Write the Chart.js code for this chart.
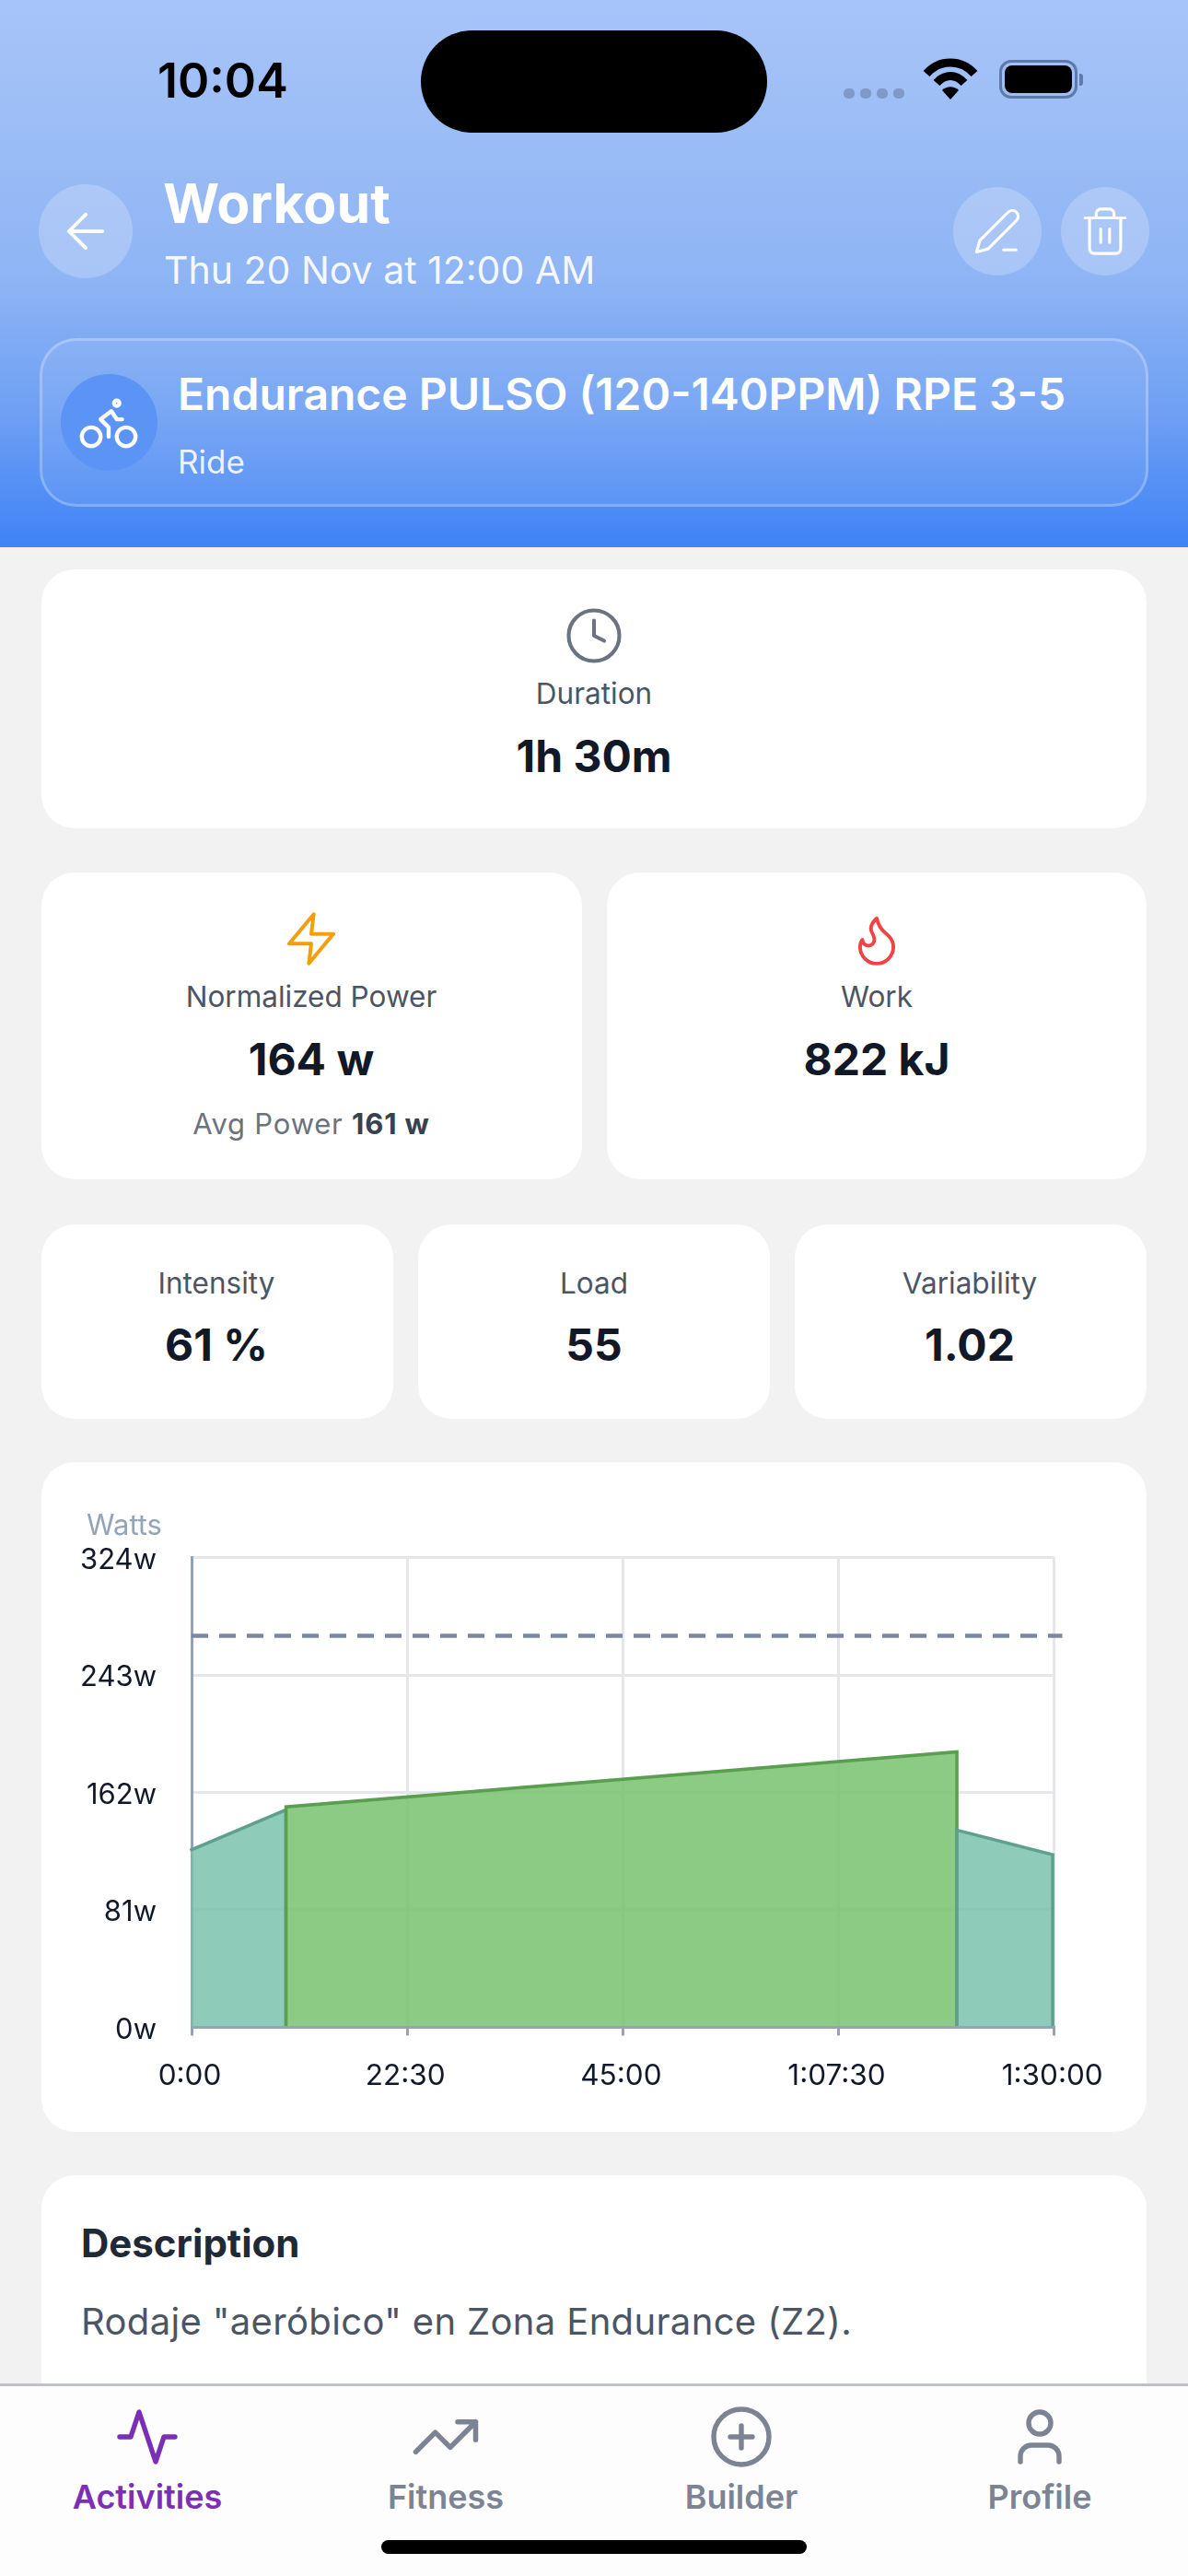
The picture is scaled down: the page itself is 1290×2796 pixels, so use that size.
<!DOCTYPE html>
<html>
<head>
<meta charset="utf-8">
<script src="https://cdn.jsdelivr.net/npm/chart.js@4"></script>
<style>
html, body { margin: 0; padding: 0; background: #f2f2f2; }
body { position: relative; width: 1290px; height: 2796px; overflow: hidden; font-family: Inter, "Noto Sans", sans-serif; color: #111827; }
.abs { position: absolute; }
.txt { position: absolute; white-space: nowrap; line-height: 1; transform: translateY(-50%); }
.mid { position: absolute; white-space: nowrap; line-height: 1; transform: translate(-50%, -50%); }
.card { position: absolute; background: #fff; border-radius: 36px; }
.label { font-size: 31.5px; color: #4b5563; }
.value { font-size: 48px; font-weight: 700; color: #111827; }
.round { position: absolute; border-radius: 50%; background: rgba(255,255,255,.22); }
.icon { position: absolute; fill: none; stroke-linecap: round; stroke-linejoin: round; }
.tab { font-size: 36px; font-weight: 600; color: #7c8493; }
#header { position: absolute; left: 0; top: 0; width: 1290px; height: 594px; background: linear-gradient(to bottom, #a7c4f8 0%, #8fb5f4 50%, #6fa0f4 75%, #3f83f6 100%); }
#chartBox { position: absolute; left: 45px; top: 1588px; width: 1199px; height: 726px; }
#tabbar { position: absolute; left: 0; top: 2587px; width: 1290px; height: 209px; background: #fdfdfd; border-top: 3px solid #bdc1ce; box-sizing: border-box; }
</style>
</head>
<body>

<div id="header"></div>

<!-- status bar -->
<div class="txt" style="left:171px;top:88px;font-size:52px;font-weight:600;color:#000">10:04</div>
<div class="abs" style="left:457px;top:33px;width:376px;height:111px;border-radius:56px;background:#000"></div>
<div class="abs" style="left:916px;top:96px;width:12px;height:11px;border-radius:5px;background:#7f9ac8"></div>
<div class="abs" style="left:934px;top:96px;width:12px;height:11px;border-radius:5px;background:#7f9ac8"></div>
<div class="abs" style="left:952px;top:96px;width:12px;height:11px;border-radius:5px;background:#7f9ac8"></div>
<div class="abs" style="left:970px;top:96px;width:12px;height:11px;border-radius:5px;background:#7f9ac8"></div>
<svg class="icon" style="left:1002px;top:62px" width="60" height="48" viewBox="0 0 60 48">
  <path d="M4 18 C18 2 42 2 56 18" stroke="#000" stroke-width="9" stroke-linecap="butt"/>
  <path d="M15 28 C24 18 36 18 45 28" stroke="#000" stroke-width="9" stroke-linecap="butt"/>
  <path d="M30 46 L21 36 C26 31 34 31 39 36 Z" fill="#000" stroke="none"/>
</svg>
<div class="abs" style="left:1085px;top:65px;width:85px;height:42px;box-sizing:border-box;border:3px solid #5f7aa9;border-radius:13px"></div>
<div class="abs" style="left:1091px;top:71px;width:73px;height:30px;border-radius:8px;background:#000"></div>
<div class="abs" style="left:1172px;top:80px;width:4px;height:13px;border-radius:0 3px 3px 0;background:#5f7aa9"></div>

<!-- header -->
<div class="round" style="left:42px;top:200px;width:102px;height:102px"></div>
<svg class="icon" style="left:62px;top:220px" width="62" height="62" viewBox="0 0 24 24" stroke="#fff" stroke-width="1.5">
  <path d="M19 12H5M12 19l-7-7 7-7"/>
</svg>
<div class="txt" style="left:177px;top:220px;font-size:59px;font-weight:700;color:#fff">Workout</div>
<div class="txt" style="left:178px;top:293px;font-size:41px;color:rgba(255,255,255,.92)">Thu 20 Nov at 12:00 AM</div>
<div class="round" style="left:1035px;top:203px;width:96px;height:96px"></div>
<svg class="icon" style="left:1056px;top:224px" width="54" height="54" viewBox="0 0 24 24" stroke="#fff" stroke-width="1.4">
  <path d="M17 3a2.85 2.83 0 1 1 4 4L7.5 20.5 2 22l1.5-5.5Z"/><path d="M15 21h6"/>
</svg>
<div class="round" style="left:1152px;top:203px;width:96px;height:96px"></div>
<svg class="icon" style="left:1171px;top:222px" width="58" height="58" viewBox="0 0 24 24" stroke="#fff" stroke-width="1.3">
  <path d="M3 6h18M19 6v14c0 1-1 2-2 2H7c-1 0-2-1-2-2V6M8 6V4c0-1 1-2 2-2h4c1 0 2 1 2 2v2M10 11v6M14 11v6"/>
</svg>

<div class="abs" style="left:43px;top:367px;width:1204px;height:183px;box-sizing:border-box;border-radius:40px;border:3px solid rgba(255,255,255,.25);background:rgba(255,255,255,.08)"></div>
<div class="abs" style="left:66px;top:406px;width:105px;height:105px;border-radius:50%;background:#5b94f5"></div>
<svg class="icon" style="left:83px;top:423px" width="70" height="70" viewBox="0 0 24 24" stroke="#fff" stroke-width="1.5">
  <circle cx="5.5" cy="17.5" r="3.5"/><circle cx="18.5" cy="17.5" r="3.5"/><circle cx="15" cy="5" r="1"/><path d="M12 17.5V14l-3-3 4-3 2 3h2"/>
</svg>
<div class="txt" style="left:193px;top:428px;font-size:48px;font-weight:600;color:#fff">Endurance PULSO (120-140PPM) RPE 3-5</div>
<div class="txt" style="left:193px;top:501px;font-size:35px;color:rgba(255,255,255,.88)">Ride</div>

<!-- stat cards -->
<div class="card" style="left:45px;top:618px;width:1200px;height:281px"></div>
<svg class="icon" style="left:612px;top:657px" width="66" height="66" viewBox="0 0 24 24" stroke="#6b7280" stroke-width="1.5">
  <circle cx="12" cy="12" r="10"/><path d="M12 6v6l4 2"/>
</svg>
<div class="mid label" style="left:645px;top:753px">Duration</div>
<div class="mid value" style="left:645px;top:821px">1h 30m</div>

<div class="card" style="left:45px;top:947px;width:587px;height:333px"></div>
<svg class="icon" style="left:306px;top:987px" width="64" height="64" viewBox="0 0 24 24" stroke="#f59e0b" stroke-width="1.5">
  <path d="M13 2 3 14h9l-1 8 10-12h-9l1-8Z"/>
</svg>
<div class="mid label" style="left:338px;top:1082px">Normalized Power</div>
<div class="mid value" style="left:338px;top:1150px">164 w</div>
<div class="mid" style="left:338px;top:1219px;font-size:31px;letter-spacing:.8px;color:#6b7280">Avg Power <b style="color:#374151">161 w</b></div>

<div class="card" style="left:659px;top:947px;width:586px;height:333px"></div>
<svg class="icon" style="left:921px;top:989px" width="62" height="62" viewBox="0 0 24 24" stroke="#ef4444" stroke-width="1.5">
  <path d="M8.5 14.5A2.5 2.5 0 0 0 11 12c0-1.38-.5-2-1-3-1.072-2.143-.224-4.054 2-6 .5 2.5 2 4.9 4 6.5 2 1.6 3 3.5 3 5.5a7 7 0 1 1-14 0c0-1.153.433-2.294 1-3a2.5 2.5 0 0 0 2.5 2.5z"/>
</svg>
<div class="mid label" style="left:952px;top:1082px">Work</div>
<div class="mid value" style="left:952px;top:1150px">822 kJ</div>

<div class="card" style="left:45px;top:1329px;width:382px;height:211px"></div>
<div class="mid label" style="left:235px;top:1393px">Intensity</div>
<div class="mid value" style="left:235px;top:1460px">61 %</div>
<div class="card" style="left:454px;top:1329px;width:382px;height:211px"></div>
<div class="mid label" style="left:645px;top:1393px">Load</div>
<div class="mid value" style="left:645px;top:1460px">55</div>
<div class="card" style="left:863px;top:1329px;width:382px;height:211px"></div>
<div class="mid label" style="left:1053px;top:1393px">Variability</div>
<div class="mid value" style="left:1053px;top:1460px">1.02</div>

<!-- chart -->
<div class="card" style="left:45px;top:1587px;width:1200px;height:727px"></div>
<div id="chartBox"><canvas id="powerChart" width="1199" height="726"></canvas></div>
<div class="txt" style="left:94px;top:1654px;font-size:31px;color:#94a3b8">Watts</div>

<!-- description -->
<div class="card" style="left:45px;top:2361px;width:1200px;height:300px"></div>
<div class="txt" style="left:88px;top:2435px;font-size:42px;font-weight:700;color:#1f2937">Description</div>
<div class="txt" style="left:88px;top:2520px;font-size:40px;letter-spacing:.35px;color:#4b5563">Rodaje "aeróbico" en Zona Endurance (Z2).</div>

<!-- tab bar -->
<div id="tabbar"></div>
<svg class="icon" style="left:124px;top:2609px" width="72" height="72" viewBox="0 0 24 24" stroke="#7b2fb5" stroke-width="1.8">
  <path d="M22 12h-4l-3 9L9 3l-3 9H2"/>
</svg>
<svg class="icon" style="left:445px;top:2606px" width="78" height="78" viewBox="0 0 24 24" stroke="#7c8493" stroke-width="1.7">
  <path d="M22 7l-8.5 8.5-5-5L2 17M16 7h6v6"/>
</svg>
<svg class="icon" style="left:769px;top:2609px" width="72" height="72" viewBox="0 0 24 24" stroke="#7c8493" stroke-width="1.8">
  <circle cx="12" cy="12" r="10"/><path d="M12 8v8M8 12h8"/>
</svg>
<svg class="icon" style="left:1093px;top:2609px" width="72" height="72" viewBox="0 0 24 24" stroke="#7c8493" stroke-width="1.8">
  <path d="M19 21v-2a4 4 0 0 0-4-4H9a4 4 0 0 0-4 4v2"/><circle cx="12" cy="7" r="4"/>
</svg>
<div class="mid tab" style="left:160px;top:2710px;color:#7b2fb5">Activities</div>
<div class="mid tab" style="left:484px;top:2710px">Fitness</div>
<div class="mid tab" style="left:805px;top:2710px">Builder</div>
<div class="mid tab" style="left:1129px;top:2710px">Profile</div>
<div class="abs" style="left:414px;top:2757px;width:462px;height:15px;border-radius:8px;background:#000"></div>

<script>
// minutes / watts
const warmupMinutes = [-0.15, -0.15, 9.85, 9.85];
const warmupWatts = [0, 122, 150, 0];
const mainMinutes = [9.85, 9.85, 79.85, 79.85];
const mainWatts = [0, 152, 190, 0];
const cooldownMinutes = [79.85, 79.85, 89.85, 89.85];
const cooldownWatts = [0, 136, 119, 0];
const ftpMinutes = [0, 90.85];
const ftpWatts = [270, 270];
const xTickLabels = ["0:00", "22:30", "45:00", "1:07:30", "1:30:00"];
const yTickLabels = ["0w", "81w", "162w", "243w", "324w"];

function zip(xs, ys) {
    return xs.map((x, i) => ({ x: x, y: ys[i] }));
}

function block(xs, ys, fill, line) {
    return {
        data: zip(xs, ys),
        fill: "origin",
        backgroundColor: fill,
        borderColor: line,
        borderWidth: 3.5,
        pointRadius: 0,
        tension: 0,
        clip: false,
    };
}

// the tick labels sit a little off their grid lines in the reference
const nudgeLabels = {
    id: "nudgeLabels",
    beforeDraw(chart) {
        chart.scales.y.getLabelItems().forEach((item) => {
            if (!item.nudged) {
                item.textOffset += 3;
                item.nudged = true;
            }
        });
        chart.scales.x.getLabelItems().forEach((item) => {
            if (!item.nudged) {
                item.options.translation[0] -= 2;
                item.nudged = true;
            }
        });
    },
};

const ctx = document.getElementById("powerChart").getContext("2d");

new Chart(ctx, {
    type: "line",
    plugins: [nudgeLabels],
    data: {
        // index 0 is painted last
        datasets: [
            block(cooldownMinutes, cooldownWatts, "rgba(122, 194, 172, 0.85)", "#5f9f8d"),
            block(mainMinutes, mainWatts, "rgba(120, 194, 110, 0.85)", "#5a9e50"),
            block(warmupMinutes, warmupWatts, "rgba(122, 194, 172, 0.85)", "#5f9f8d"),
            {
                data: zip(ftpMinutes, ftpWatts),
                borderColor: "#7a88a3",
                borderWidth: 4.5,
                borderDash: [18, 12],
                pointRadius: 0,
                fill: false,
                clip: false,
            },
        ],
    },
    options: {
        responsive: false,
        animation: false,
        layout: { padding: { top: 102.6, right: 99.3, left: 0, bottom: 0 } },
        plugins: { legend: { display: false }, tooltip: { enabled: false } },
        scales: {
            x: {
                type: "linear",
                min: 0,
                max: 90,
                afterFit: (scale) => { scale.height = 113.6; },
                border: { color: "#94a3b8", width: 3, z: 1 },
                grid: { color: "#e5e7eb", lineWidth: 3, tickColor: "#94a3b8", tickLength: 9 },
                ticks: {
                    stepSize: 22.5,
                    padding: 25,
                    maxRotation: 0,
                    autoSkip: false,
                    color: "#111827",
                    font: { family: "Inter", size: 31.5 },
                    callback: (value, index) => xTickLabels[index],
                },
            },
            y: {
                min: 0,
                max: 324,
                afterFit: (scale) => { scale.width = 163; },
                border: { color: "#94a3b8", width: 3 },
                grid: { color: "#e5e7eb", lineWidth: 3, drawTicks: false },
                ticks: {
                    stepSize: 81,
                    padding: 38,
                    color: "#111827",
                    font: { family: "Inter", size: 31 },
                    callback: (value, index) => yTickLabels[index],
                },
            },
        },
    },
});
</script>
</body>
</html>
